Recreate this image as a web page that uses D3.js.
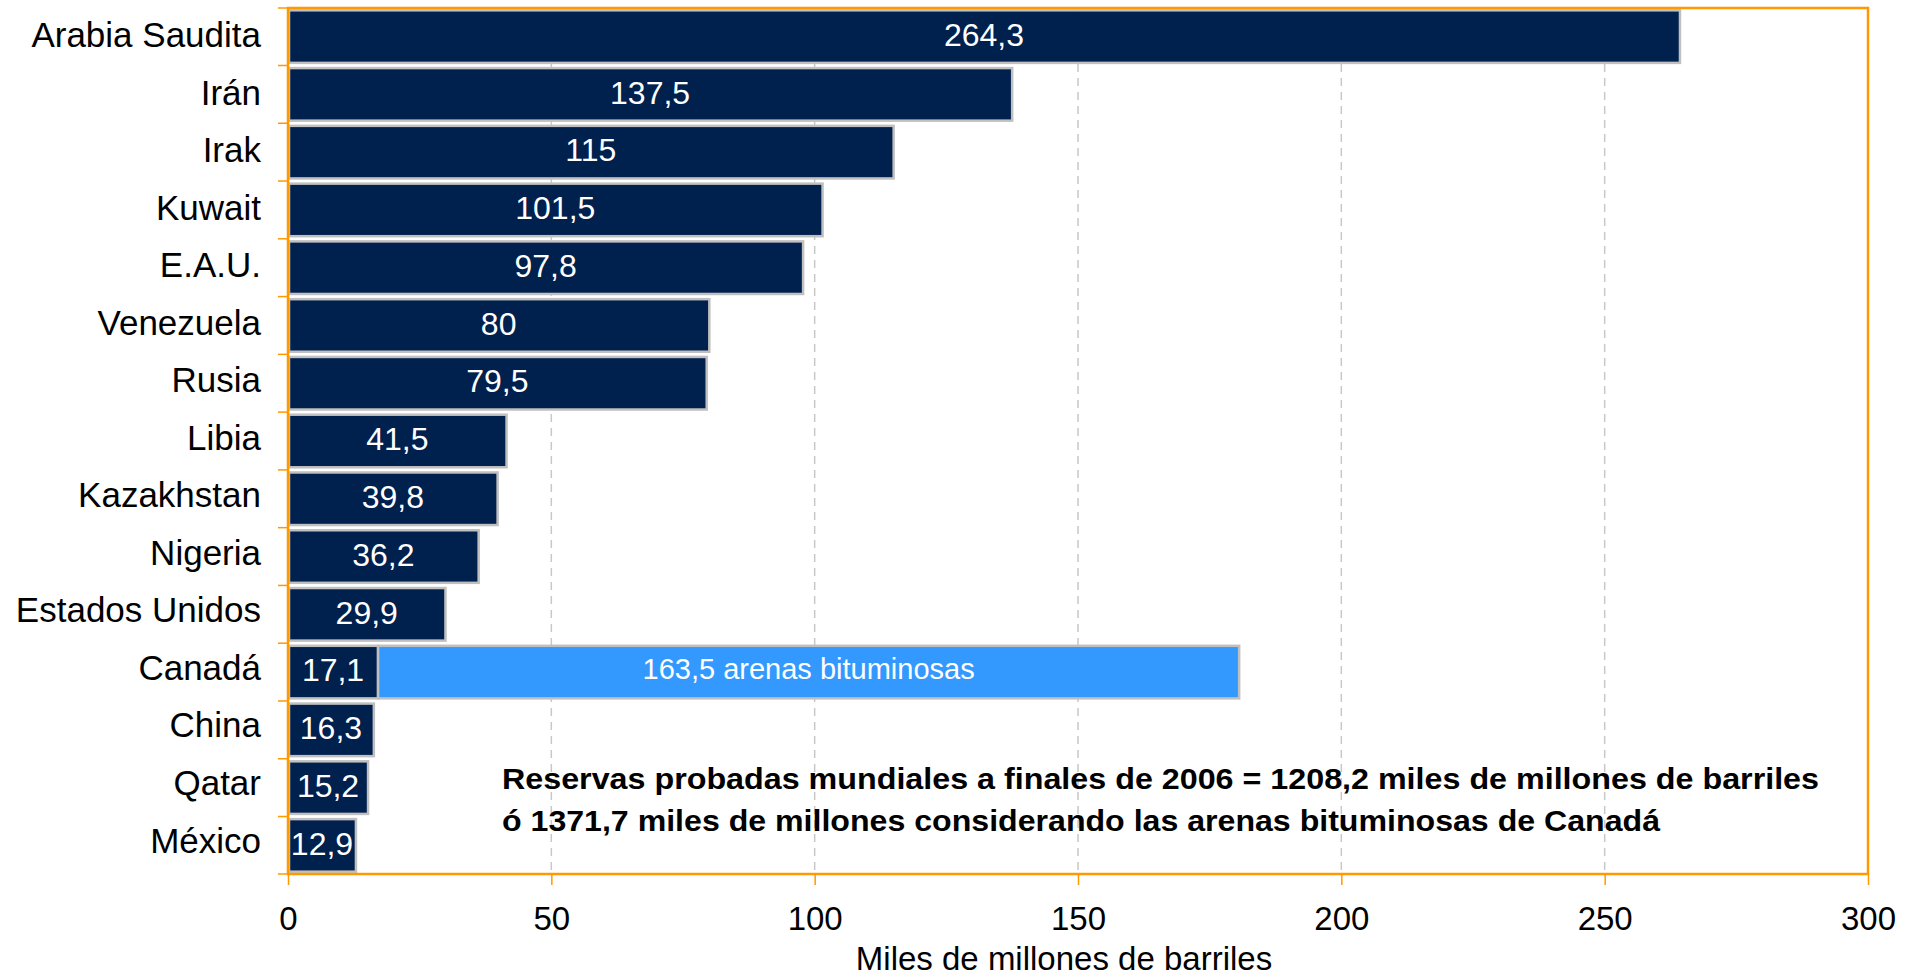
<!DOCTYPE html>
<html>
<head>
<meta charset="utf-8">
<script src="https://cdn.jsdelivr.net/npm/d3@7"></script>
<style>
  body { margin: 0; background: #fff; }
  svg text { font-family: "Liberation Sans", Arial, sans-serif; }
</style>
</head>
<body>
<svg width="1921" height="978"></svg>
<script>
var countries = ["Arabia Saudita", "Irán", "Irak", "Kuwait", "E.A.U.", "Venezuela", "Rusia", "Libia",
                 "Kazakhstan", "Nigeria", "Estados Unidos", "Canadá", "China", "Qatar", "México"];
var reserves = [264.3, 137.5, 115, 101.5, 97.8, 80, 79.5, 41.5, 39.8, 36.2, 29.9, 17.1, 16.3, 15.2, 12.9];
var oilSands = [0, 0, 0, 0, 0, 0, 0, 0, 0, 0, 0, 163.5, 0, 0, 0];
var xTicks = [0, 50, 100, 150, 200, 250, 300];
var noteLines = ["Reservas probadas mundiales a finales de 2006 = 1208,2 miles de millones de barriles",
                 "ó 1371,7 miles de millones considerando las arenas bituminosas de Canadá"];
var xTitle = "Miles de millones de barriles";

// plot box (note: "top" is a reserved window property, so use other names)
var plotL = 288, plotR = 1868, plotT = 8, plotB = 874;
var orange = "#ff9900", navy = "#00204e", sky = "#3399ff";

var svg = d3.select("svg");

var scaleX = d3.scaleLinear().domain([0, 300]).range([plotL, plotR]);
var scaleY = d3.scaleBand().domain(countries).range([plotT, plotB])
               .paddingInner(0.09).paddingOuter(0.04);

var fmt = function(v) { return String(v).replace(".", ","); };

// dashed grid
svg.append("g").selectAll("line")
   .data(xTicks.filter(function(d) { return d > 0 && d < 300; }))
   .enter().append("line")
   .attr("x1", function(d) { return scaleX(d); })
   .attr("x2", function(d) { return scaleX(d); })
   .attr("y1", plotT).attr("y2", plotB)
   .attr("stroke", "#c8c8c8").attr("stroke-width", 1.5)
   .attr("stroke-dasharray", "8,6");

// main bars
svg.append("g").selectAll("rect")
   .data(countries)
   .enter().append("rect")
   .attr("x", scaleX(0) + 1)
   .attr("y", function(d) { return scaleY(d); })
   .attr("width", function(d, i) { return scaleX(reserves[i]) - scaleX(0) - 1; })
   .attr("height", scaleY.bandwidth())
   .attr("fill", navy)
   .attr("stroke", "#c0c0c0").attr("stroke-width", 2.5);

// oil sands segment
svg.append("g").selectAll("rect")
   .data(countries.filter(function(d, i) { return oilSands[i] > 0; }))
   .enter().append("rect")
   .attr("x", function(d) { var i = countries.indexOf(d); return scaleX(reserves[i]); })
   .attr("y", function(d) { return scaleY(d); })
   .attr("width", function(d) { var i = countries.indexOf(d); return scaleX(reserves[i] + oilSands[i]) - scaleX(reserves[i]); })
   .attr("height", scaleY.bandwidth())
   .attr("fill", sky)
   .attr("stroke", "#c0c0c0").attr("stroke-width", 2.5);

// value labels
svg.append("g").selectAll("text")
   .data(countries)
   .enter().append("text")
   .attr("x", function(d, i) { return scaleX(reserves[i] / 2); })
   .attr("y", function(d) { return scaleY(d) + scaleY.bandwidth() / 2 - 2; })
   .attr("dy", "0.35em")
   .attr("text-anchor", "middle")
   .attr("font-size", 32)
   .attr("fill", "#fff")
   .text(function(d, i) { return fmt(reserves[i]); });

svg.append("g").selectAll("text")
   .data(countries.filter(function(d, i) { return oilSands[i] > 0; }))
   .enter().append("text")
   .attr("x", function(d) { var i = countries.indexOf(d); return scaleX(reserves[i] + oilSands[i] / 2); })
   .attr("y", function(d) { return scaleY(d) + scaleY.bandwidth() / 2 - 3; })
   .attr("dy", "0.35em")
   .attr("text-anchor", "middle")
   .attr("font-size", 29)
   .attr("fill", "#fff")
   .text(function(d) { var i = countries.indexOf(d); return fmt(oilSands[i]) + " arenas bituminosas"; });

// frame
svg.append("rect")
   .attr("x", plotL).attr("y", plotT)
   .attr("width", plotR - plotL).attr("height", plotB - plotT)
   .attr("fill", "none").attr("stroke", orange).attr("stroke-width", 2.5);

// y ticks at band boundaries
var bounds = countries.map(function(d) { return scaleY(d) - scaleY.step() * scaleY.paddingInner() / 2; });
bounds[0] = plotT;
bounds.push(plotB);
svg.append("g").selectAll("line")
   .data(bounds)
   .enter().append("line")
   .attr("x1", plotL - 10).attr("x2", plotL)
   .attr("y1", function(d) { return d; }).attr("y2", function(d) { return d; })
   .attr("stroke", orange).attr("stroke-width", 1.5);

// country labels
svg.append("g").selectAll("text")
   .data(countries)
   .enter().append("text")
   .attr("x", plotL - 27)
   .attr("y", function(d, i) { return scaleY(d) + scaleY.bandwidth() / 2 - 2 - i * 0.25; })
   .attr("dy", "0.36em")
   .attr("text-anchor", "end")
   .attr("font-size", 35)
   .attr("fill", "#000")
   .text(function(d) { return d; });

// x axis
var xAxis = svg.append("g")
   .attr("transform", "translate(0," + plotB + ")")
   .call(d3.axisBottom(scaleX).tickValues(xTicks).tickSize(11).tickPadding(22));
xAxis.select(".domain").remove();
xAxis.selectAll("line").attr("stroke", orange).attr("stroke-width", 1.5);
xAxis.selectAll("text")
   .attr("font-size", 33)
   .attr("fill", "#000")
   .style("font-family", '"Liberation Sans", Arial, sans-serif');

svg.append("text")
   .attr("x", 1064)
   .attr("y", 970)
   .attr("text-anchor", "middle")
   .attr("font-size", 33)
   .attr("fill", "#000")
   .text(xTitle);

// note
svg.append("g").selectAll("text")
   .data(noteLines)
   .enter().append("text")
   .attr("x", 502)
   .attr("y", function(d, i) { return 789 + i * 42; })
   .attr("font-size", 29)
   .attr("font-weight", "bold")
   .attr("fill", "#000")
   .attr("textLength", function(d, i) { return i === 0 ? 1317 : 1158; })
   .attr("lengthAdjust", "spacingAndGlyphs")
   .text(function(d) { return d; });
</script>
</body>
</html>
